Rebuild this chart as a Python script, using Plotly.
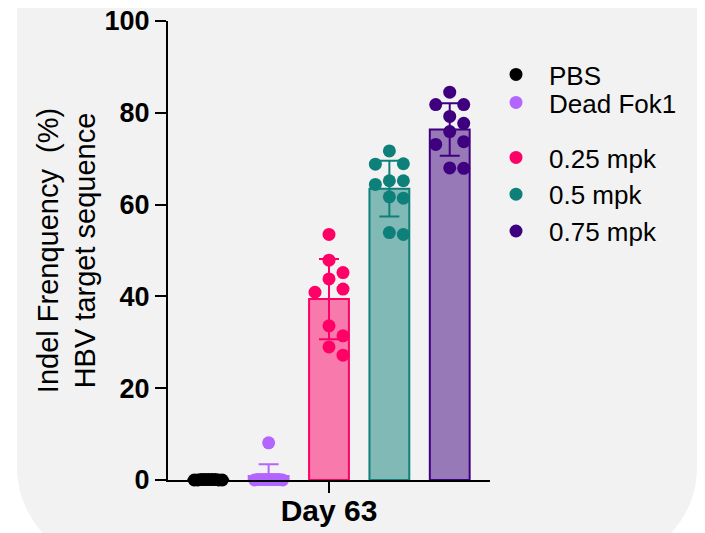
import numpy as np
import plotly.graph_objects as go

# ---------------- data ----------------
groups = ["PBS", "Dead Fok1", "0.25 mpk", "0.5 mpk", "0.75 mpk"]
pbs = [0.1, 0.0, 0.1, 0.0, 0.1, 0.0, 0.1, 0.0, 0.1]
dead_fok1 = [8.1, 0.1, 0.1, 0.0, 0.1, 0.1, 0.0, 0.1, 0.1, 0.1]
mpk_025 = [53.5, 47.9, 45.2, 43.8, 41.6, 40.9, 33.6, 31.4, 29.0, 27.2]
mpk_05 = [71.7, 68.9, 68.8, 65.2, 65.2, 64.4, 61.7, 61.4, 53.9, 53.5]
mpk_075 = [84.5, 81.8, 81.8, 79.2, 77.7, 75.9, 73.7, 73.1, 68.0, 67.9]
x_tick_text = ["Day 63"]
y_tick_vals = [0, 20, 40, 60, 80, 100]

series = [pbs, dead_fok1, mpk_025, mpk_05, mpk_075]

# ---------------- styling ----------------
dot_colors = ["#000000", "#b266ff", "#ff0066", "#0e807a", "#3f007f"]
bg_grey = "#f2f2f2"
FONT = "Arial, 'Liberation Sans', sans-serif"

W, H = 705, 533
S = 8  # page body margin offset (screen px -> figure px)
M_L = 168 - S
M_T = 21 - S
M_R = W - (490 - S)
M_B = H - (480 - S)
plot_w = W - M_L - M_R
plot_h = H - M_T - M_B
x_range = [-0.667, len(groups) - 1 + 0.667]
y_range = [0, 100]
px_per_x = plot_w / (x_range[1] - x_range[0])
px_per_y = plot_h / (y_range[1] - y_range[0])


def blend(hex_color, alpha=0.5, bg=(242, 242, 242)):
    h = hex_color.lstrip("#")
    rgb = [int(h[i:i + 2], 16) for i in (0, 2, 4)]
    mixed = [round(alpha * c + (1 - alpha) * b) for c, b in zip(rgb, bg)]
    return "rgb({},{},{})".format(*mixed)


def swarm_offsets(values, dot=14.0, step=14.4, max_off=14.0):
    """Simple beeswarm: spread points horizontally so dots do not overlap."""
    vals = np.asarray(values, dtype=float)
    order = np.argsort(-vals, kind="stable")
    cand = [0]
    for k in range(1, 30):
        cand += [k, -k]
    placed = []
    offs = np.zeros(len(vals))
    for i in order:
        ypx = vals[i] * px_per_y
        for k in cand:
            xpx = k * step
            if all(np.hypot(xpx - a, ypx - b) >= dot for a, b in placed):
                break
        offs[i] = xpx
        placed.append((xpx, ypx))
    m = np.abs(offs).max()
    if m > max_off:
        offs *= max_off / m
    return offs / px_per_x


fig = go.Figure()

# bars with mean +/- SD
for i, (name, vals, col) in enumerate(zip(groups, series, dot_colors)):
    v = np.asarray(vals, dtype=float)
    fig.add_trace(go.Bar(
        x=[i], y=[v.mean()], width=0.66,
        marker=dict(color=blend(col), line=dict(color=col, width=2)),
        error_y=dict(type="data", array=[v.std(ddof=1)], color=col,
                     thickness=2, width=10),
        showlegend=False, hoverinfo="skip",
    ))

# individual points
legend_ids = ["legend", "legend2", "legend3", "legend3", "legend3"]
for i, (name, vals, col, lg) in enumerate(zip(groups, series, dot_colors, legend_ids)):
    offs = swarm_offsets(vals)
    fig.add_trace(go.Scatter(
        x=i + offs, y=vals, mode="markers", name=name,
        marker=dict(color=col, size=13, line=dict(width=0)),
        cliponaxis=False, legend=lg,
    ))


# rounded grey panel behind the chart (screen px -> paper conversion)
def px2paper(px, py):
    return (px - S - M_L) / plot_w, (H - M_B - (py - S)) / plot_h


R = 97
k = 0.5523 * R
left, right, bottom, top = 17, 697, 564, -20
pts = [
    ("M", [(left, top)]),
    ("L", [(left, bottom - R)]),
    ("C", [(left, bottom - R + k), (left + R - k, bottom), (left + R, bottom)]),
    ("L", [(right - R, bottom)]),
    ("C", [(right - R + k, bottom), (right, bottom - R + k), (right, bottom - R)]),
    ("L", [(right, top)]),
]
path = ""
for cmd, pl in pts:
    path += cmd + " " + " ".join("{:.5f},{:.5f}".format(*px2paper(*p)) for p in pl) + " "
path += "Z"

fig.add_shape(type="path", path=path, xref="paper", yref="paper",
              fillcolor=bg_grey, line=dict(width=0), layer="below")

legend_common = dict(
    xanchor="left", yanchor="top",
    font=dict(family=FONT, size=26, color="black"),
    bgcolor="rgba(0,0,0,0)", borderwidth=0, itemwidth=56,
    tracegroupgap=0,
)
lx = px2paper(483, 0)[0]
fig.update_layout(
    width=W, height=H,
    margin=dict(l=M_L, r=M_R, t=M_T, b=M_B, autoexpand=False),
    paper_bgcolor="white",
    plot_bgcolor="rgba(0,0,0,0)",
    barmode="overlay",
    font=dict(family=FONT, color="black"),
    showlegend=True,
    legend=dict(x=lx, y=px2paper(0, 51)[1], **legend_common),
    legend2=dict(x=lx, y=px2paper(0, 79)[1], **legend_common),
    legend3=dict(x=lx, y=px2paper(0, 134)[1], **legend_common),
    xaxis=dict(
        range=x_range, showgrid=False, zeroline=False,
        showline=True, linecolor="black", linewidth=2,
        ticks="outside", ticklen=11, tickwidth=2, tickcolor="black",
        tickvals=[(len(groups) - 1) / 2], ticktext=x_tick_text,
        tickfont=dict(family=FONT, size=30, color="black", weight="bold"),
        ticklabelstandoff=-8, ticklabeloverflow="allow",
        fixedrange=True,
    ),
    yaxis=dict(
        range=y_range, showgrid=False, zeroline=False,
        showline=True, linecolor="black", linewidth=2,
        ticks="outside", ticklen=11, tickwidth=2, tickcolor="black",
        tickvals=y_tick_vals, ticklabeloverflow="allow",
        tickfont=dict(family=FONT, size=27, color="black", weight="bold"),
        title=dict(text="Indel Frenquency\u00a0 (%)<br>HBV target sequence",
                   font=dict(family=FONT, size=29, color="black"),
                   standoff=0),
        automargin=True,
        fixedrange=True,
    ),
)

fig.write_html("out.html")
